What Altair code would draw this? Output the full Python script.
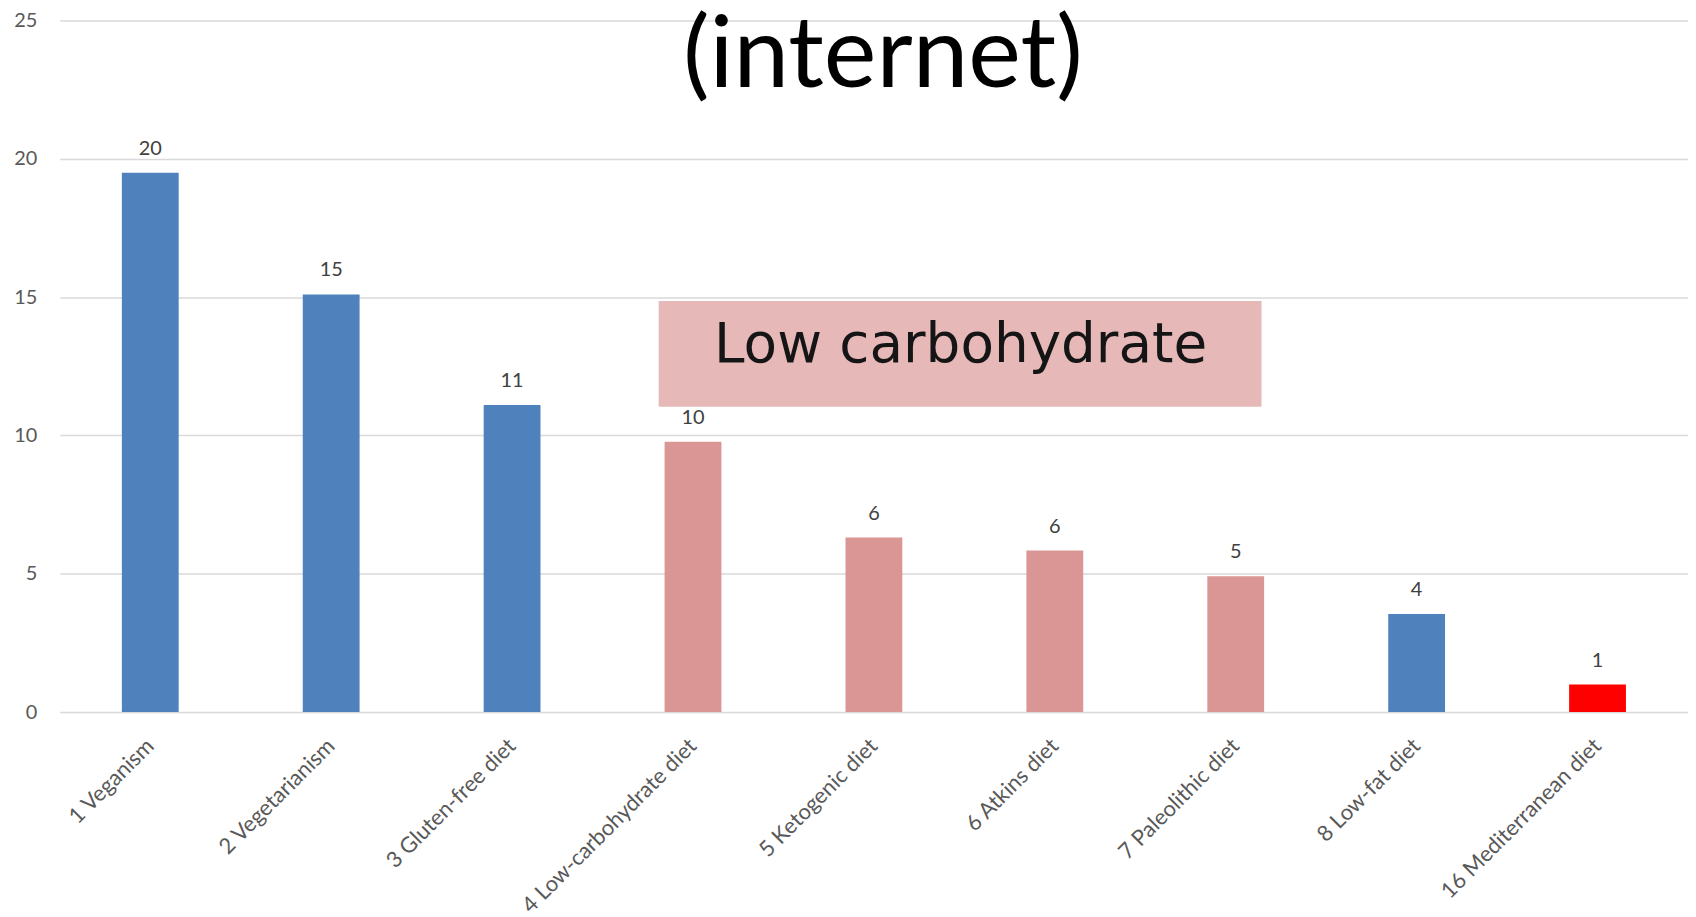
import altair as alt
import pandas as pd

diets = ["1 Veganism", "2 Vegetarianism", "3 Gluten-free diet", "4 Low-carbohydrate diet",
         "5 Ketogenic diet", "6 Atkins diet", "7 Paleolithic diet", "8 Low-fat diet",
         "16 Mediterranean diet"]
values = [19.5, 15.1, 11.1, 9.77, 6.31, 5.84, 4.91, 3.55, 1.0]
labels = ["20", "15", "11", "10", "6", "6", "5", "4", "1"]
groups = ["Other", "Other", "Other", "Low carbohydrate", "Low carbohydrate",
          "Low carbohydrate", "Low carbohydrate", "Other", "Mediterranean"]
y_ticks = [0, 5, 10, 15, 20, 25]
box_range = [14.86, 11.04]
title_text = "(internet)"
box_text = "Low carbohydrate"

df = pd.DataFrame({"diet": diets, "value": values, "label": labels, "group": groups})

W, H = 1634, 694
FONT = "Lato"

x = alt.X("diet:N", sort=diets, title=None,
          scale=alt.Scale(paddingInner=0.686, paddingOuter=0.343),
          axis=alt.Axis(labelAngle=-45, labelAlign="right", labelBaseline="middle",
                        labelPadding=30, labelFontSize=22, labelColor="#595959",
                        labelFont=FONT, ticks=False, domain=False, labelLimit=400))
y = alt.Y("value:Q", title=None, scale=alt.Scale(domain=[0, 25], nice=False),
          axis=alt.Axis(values=y_ticks, grid=True, gridColor="#D9D9D9", gridWidth=1.5,
                        ticks=False, domain=False, labelPadding=23, labelFontSize=20,
                        labelColor="#595959", labelFont=FONT))

base = alt.Chart(df)
bars = base.mark_bar().encode(
    x=x, y=y,
    color=alt.Color("group:N", legend=None,
                    scale=alt.Scale(domain=["Other", "Low carbohydrate", "Mediterranean"],
                                    range=["#4F81BD", "#DA9694", "#FF0000"])))
vals = base.mark_text(dy=-18, baseline="alphabetic", fontSize=20, font=FONT,
                      color="#404040").encode(x=x, y=y, text="label:N")

box = alt.Chart(pd.DataFrame({"y": [box_range[0]], "y2": [box_range[1]]})).mark_rect(
    color="#E6B8B7").encode(x=alt.value(601), x2=alt.value(1206), y="y:Q", y2="y2:Q")
boxt = alt.Chart(pd.DataFrame({"t": [box_text]})).mark_text(
    fontSize=55, font="DejaVu Sans", color="#151515", align="center",
    baseline="alphabetic").encode(text="t:N", x=alt.value(904), y=alt.value(343))
title = alt.Chart(pd.DataFrame({"t": [title_text]})).mark_text(
    fontSize=100, font=FONT, color="#000000", align="center", baseline="alphabetic").encode(
    text="t:N", x=alt.value(826), y=alt.value(67))

chart = alt.layer(bars, vals, box, boxt, title).properties(
    width=W, height=H,
    autosize=alt.AutoSizeParams(type="none"),
    padding={"left": 52, "top": 11, "right": 0, "bottom": 204},
    background="white",
).configure_view(stroke=None)

chart.save("out.html", embed_options={"renderer": "svg", "actions": False})
